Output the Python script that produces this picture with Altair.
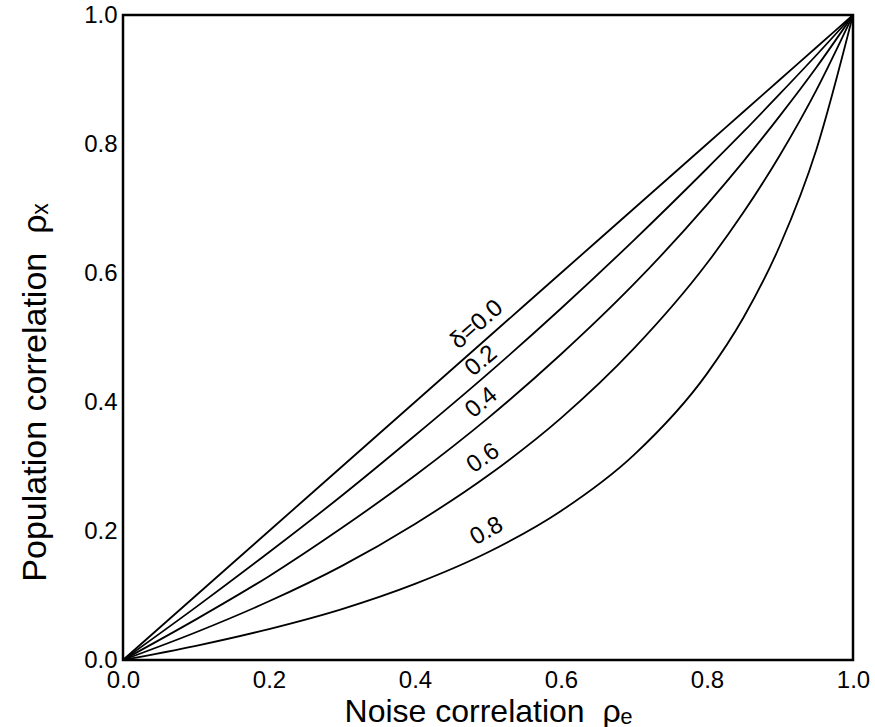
import altair as alt
import pandas as pd

# noise correlation values (x)
rho_e = [0.0, 0.1, 0.2, 0.3, 0.4, 0.5, 0.6, 0.7, 0.8, 0.85, 0.9, 0.95, 1.0]

# population correlation for each delta (y)
delta_labels = ["δ=0.0", "0.2", "0.4", "0.6", "0.8"]
rho_x_d00 = [0.0, 0.10, 0.20, 0.30, 0.40, 0.50, 0.60, 0.70, 0.80, 0.85, 0.90, 0.95, 1.0]
rho_x_d02 = [0.0, 0.082, 0.167, 0.255, 0.348, 0.444, 0.545, 0.651, 0.762, 0.819, 0.878, 0.938, 1.0]
rho_x_d04 = [0.0, 0.063, 0.130, 0.205, 0.286, 0.375, 0.474, 0.583, 0.706, 0.773, 0.844, 0.919, 1.0]
rho_x_d06 = [0.0, 0.043, 0.091, 0.146, 0.211, 0.286, 0.375, 0.483, 0.615, 0.694, 0.783, 0.884, 1.0]
rho_x_d08 = [0.0, 0.022, 0.048, 0.079, 0.118, 0.167, 0.231, 0.318, 0.444, 0.531, 0.643, 0.792, 1.0]
series = [rho_x_d00, rho_x_d02, rho_x_d04, rho_x_d06, rho_x_d08]

tick_values = [0.0, 0.2, 0.4, 0.6, 0.8, 1.0]

# label placement: index into rho_e, text angle, offsets along/perpendicular to the curve
label_index = [5, 5, 5, 5, 5]
label_angle = [319, 320, 320, 325, 331]
label_dx = [0, 3, 5, 6, 9]
label_dy = [-17, -14, -16, -17, -19]

rows = []
for lab, ys in zip(delta_labels, series):
    for x, y in zip(rho_e, ys):
        rows.append({"delta": lab, "rho_e": x, "rho_x": y})
df = pd.DataFrame(rows)

xscale = alt.Scale(domain=[0, 1], nice=False, zero=False)
yscale = alt.Scale(domain=[0, 1], nice=False, zero=False)

font = "Liberation Sans"
gap = "\u00a0\u00a0"

lines = alt.Chart(df).mark_line(color="black", strokeWidth=1.8, interpolate="monotone").encode(
    x=alt.X("rho_e:Q", scale=xscale,
            axis=alt.Axis(title="Noise correlation" + gap + "ρₑ", values=tick_values,
                          format=".1f", ticks=False, grid=False, domain=False,
                          labelFontSize=24, labelPadding=8, labelColor="black",
                          labelFont=font, titleFont=font, titleFontSize=32,
                          titleFontWeight="normal", titleColor="black",
                          titleBaseline="middle", titleY=51, titleX=365,
                          labelFlush=False)),
    y=alt.Y("rho_x:Q", scale=yscale,
            axis=alt.Axis(title="Population correlation" + gap + "ρₓ", values=tick_values,
                          format=".1f", ticks=False, grid=False, domain=False,
                          labelFontSize=24, labelPadding=6, labelColor="black",
                          labelFont=font, titleFont=font, titleFontSize=34,
                          titleFontWeight="normal", titleColor="black",
                          titleBaseline="middle", titleX=-88, titleY=377,
                          labelFlush=False)),
    detail="delta:N",
)

layers = [lines]
for lab, ys, i, a, ddx, ddy in zip(delta_labels, series, label_index, label_angle, label_dx, label_dy):
    d = pd.DataFrame({"label": [lab], "rho_e": [rho_e[i]], "rho_x": [ys[i]]})
    layers.append(
        alt.Chart(d).mark_text(
            font=font, fontSize=24, color="black", align="center", baseline="middle",
            angle=a, dx=ddx, dy=ddy
        ).encode(
            x=alt.X("rho_e:Q", scale=xscale),
            y=alt.Y("rho_x:Q", scale=yscale),
            text="label:N",
        )
    )

chart = alt.layer(*layers).properties(
    width=730, height=645,
    padding={"left": 123, "top": 15, "right": 22, "bottom": 67},
    autosize=alt.AutoSizeParams(type="none"),
    background="white",
).configure_view(stroke="black", strokeWidth=2.5)

chart.save("out.html", embed_options={"renderer": "svg", "actions": False})
